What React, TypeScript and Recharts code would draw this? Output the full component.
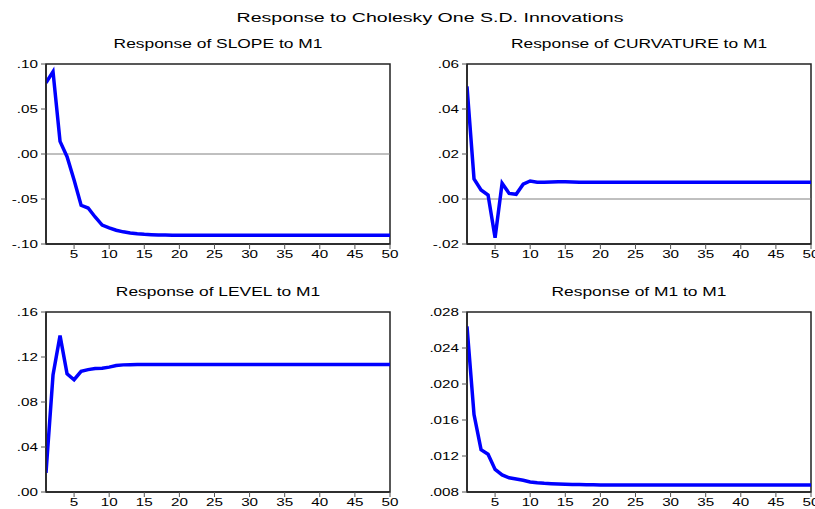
import React from "react";
import { LineChart, Line, XAxis, YAxis, ReferenceLine, ReferenceArea } from "recharts";

const periods = [
  1, 2, 3, 4, 5, 6, 7, 8, 9, 10, 11, 12, 13, 14, 15, 16, 17, 18, 19, 20,
  21, 22, 23, 24, 25, 26, 27, 28, 29, 30, 31, 32, 33, 34, 35, 36, 37, 38, 39, 40,
  41, 42, 43, 44, 45, 46, 47, 48, 49, 50,
];

const slopeValues = [
  0.079, 0.0915, 0.014, -0.003, -0.029, -0.057, -0.06, -0.07, -0.079, -0.082,
  -0.0847, -0.0865, -0.0877, -0.0886, -0.0892, -0.0896, -0.0899, -0.0901, -0.0902, -0.0903,
  -0.0903, -0.0903, -0.0903, -0.0903, -0.0903, -0.0903, -0.0903, -0.0903, -0.0903, -0.0903,
  -0.0903, -0.0903, -0.0903, -0.0903, -0.0903, -0.0903, -0.0903, -0.0903, -0.0903, -0.0903,
  -0.0903, -0.0903, -0.0903, -0.0903, -0.0903, -0.0903, -0.0903, -0.0903, -0.0903, -0.0903,
];

const curvatureValues = [
  0.05, 0.0089, 0.004, 0.0018, -0.0172, 0.007, 0.0025, 0.0021, 0.0066, 0.008,
  0.0075, 0.0075, 0.0076, 0.0077, 0.0077, 0.0076, 0.0075, 0.0075, 0.0075, 0.0075,
  0.0075, 0.0075, 0.0074, 0.0074, 0.0074, 0.0074, 0.0074, 0.0074, 0.0074, 0.0074,
  0.0074, 0.0074, 0.0074, 0.0074, 0.0074, 0.0074, 0.0074, 0.0074, 0.0074, 0.0074,
  0.0074, 0.0074, 0.0074, 0.0074, 0.0074, 0.0074, 0.0074, 0.0074, 0.0074, 0.0074,
];

const levelValues = [
  0.017, 0.104, 0.139, 0.105, 0.0998, 0.1072, 0.1088, 0.1098, 0.11, 0.111,
  0.1124, 0.113, 0.1132, 0.1133, 0.1134, 0.1134, 0.1134, 0.1134, 0.1134, 0.1134,
  0.1134, 0.1134, 0.1134, 0.1134, 0.1134, 0.1134, 0.1134, 0.1134, 0.1134, 0.1134,
  0.1134, 0.1134, 0.1134, 0.1134, 0.1134, 0.1134, 0.1134, 0.1134, 0.1134, 0.1134,
  0.1134, 0.1134, 0.1134, 0.1134, 0.1134, 0.1134, 0.1134, 0.1134, 0.1134, 0.1134,
];

const m1Values = [
  0.0264, 0.0166, 0.0127, 0.0122, 0.0105, 0.0099, 0.00958, 0.00945, 0.0093, 0.00912,
  0.00902, 0.00896, 0.00892, 0.00889, 0.00886, 0.00884, 0.00882, 0.00881, 0.0088, 0.00879,
  0.00879, 0.00879, 0.00879, 0.00879, 0.00879, 0.00879, 0.00879, 0.00879, 0.00879, 0.00879,
  0.00879, 0.00879, 0.00879, 0.00879, 0.00879, 0.00879, 0.00879, 0.00879, 0.00879, 0.00879,
  0.00879, 0.00879, 0.00879, 0.00879, 0.00879, 0.00879, 0.00879, 0.00879, 0.00879, 0.00879,
];

const xTicks = [5, 10, 15, 20, 25, 30, 35, 40, 45, 50];
const slopeTicks = [-0.1, -0.05, 0, 0.05, 0.1];
const curvatureTicks = [-0.02, 0, 0.02, 0.04, 0.06];
const levelTicks = [0, 0.04, 0.08, 0.12, 0.16];
const m1Ticks = [0.008, 0.012, 0.016, 0.02, 0.024, 0.028];

const mainTitle = "Response to Cholesky One S.D. Innovations";
const panelTitles = [
  "Response of SLOPE to M1",
  "Response of CURVATURE to M1",
  "Response of LEVEL to M1",
  "Response of M1 to M1",
];

const FONT = "'Liberation Sans', Arial, sans-serif";
const SX = 1.45;

const fmt = (v: number, d: number) => v.toFixed(d).replace(/^(-?)0\./, "$1.");

const YTick = (props: any) => {
  const { x, y, payload, decimals } = props;
  return (
    <text
      transform={`translate(${x},${y}) scale(${SX},1)`}
      textAnchor="end"
      dominantBaseline="central"
      fontSize={10.5}
      fontFamily={FONT}
      fill="#000"
    >
      {fmt(payload.value, decimals)}
    </text>
  );
};

const XTick = (props: any) => {
  const { x, y, payload } = props;
  return (
    <text
      transform={`translate(${x},${y + 8}) scale(${SX},1)`}
      textAnchor="middle"
      fontSize={10.5}
      fontFamily={FONT}
      fill="#000"
    >
      {payload.value}
    </text>
  );
};

type PanelProps = {
  values: number[];
  ticks: number[];
  decimals: number;
  plotLeft: number;
  plotTop: number;
  plotRight: number;
  plotBottom: number;
  zeroLine: boolean;
  rightMargin: number;
};

const Panel = ({ values, ticks, decimals, plotLeft, plotTop, plotRight, plotBottom, zeroLine, rightMargin }: PanelProps) => {
  const data = periods.map((p, i) => ({ period: p, value: values[i] }));
  const chartLeft = plotLeft - 46;
  const chartTop = plotTop - 10;
  const width = plotRight - chartLeft + rightMargin;
  const height = plotBottom - chartTop + 25;
  const yMin = ticks[0];
  const yMax = ticks[ticks.length - 1];
  return (
    <div style={{ position: "absolute", left: chartLeft, top: chartTop }}>
      <LineChart width={width} height={height} data={data} margin={{ top: 10, right: rightMargin, left: 6, bottom: 5 }}>
        <XAxis
          dataKey="period"
          type="number"
          domain={[1, 50]}
          ticks={xTicks}
          interval={0}
          height={20}
          tickSize={5}
          tickMargin={1}
          axisLine={{ stroke: "#222", strokeWidth: 1.5 }}
          tickLine={{ stroke: "#555" }}
          tick={(p: any) => <XTick {...p} />}
          allowDataOverflow
        />
        <YAxis
          type="number"
          domain={[yMin, yMax]}
          ticks={ticks}
          interval={0}
          width={40}
          tickSize={5}
          tickMargin={3}
          axisLine={{ stroke: "#222", strokeWidth: 1.5 }}
          tickLine={{ stroke: "#555" }}
          tick={(p: any) => <YTick {...p} decimals={decimals} />}
          allowDataOverflow
        />
        <ReferenceArea x1={1} x2={50} y1={yMin} y2={yMax} fill="#fff" fillOpacity={0} stroke="#222" strokeWidth={1.5} ifOverflow="extendDomain" />
        {zeroLine && <ReferenceLine y={0} stroke="#808080" strokeWidth={1} />}
        <Line type="linear" dataKey="value" stroke="#0000FF" strokeWidth={3.5} dot={false} isAnimationActive={false} />
      </LineChart>
    </div>
  );
};

export default function App() {
  return (
    <div style={{ position: "absolute", left: 0, top: 0, width: 815, height: 509, background: "#fff", overflow: "hidden" }}>
      <svg width={815} height={509} style={{ position: "absolute", left: 0, top: 0 }}>
        <text transform={`translate(430,22) scale(${SX},1)`} textAnchor="middle" fontSize={13.5} fontFamily={FONT} fill="#000">
          {mainTitle}
        </text>
        <text transform={`translate(218,48) scale(${SX},1)`} textAnchor="middle" fontSize={12} fontFamily={FONT} fill="#000">
          {panelTitles[0]}
        </text>
        <text transform={`translate(639,48) scale(${SX},1)`} textAnchor="middle" fontSize={12} fontFamily={FONT} fill="#000">
          {panelTitles[1]}
        </text>
        <text transform={`translate(218,296) scale(${SX},1)`} textAnchor="middle" fontSize={12} fontFamily={FONT} fill="#000">
          {panelTitles[2]}
        </text>
        <text transform={`translate(639,296) scale(${SX},1)`} textAnchor="middle" fontSize={12} fontFamily={FONT} fill="#000">
          {panelTitles[3]}
        </text>
      </svg>
      <Panel values={slopeValues} ticks={slopeTicks} decimals={2} plotLeft={46} plotTop={64} plotRight={390} plotBottom={244} zeroLine rightMargin={10} />
      <Panel values={curvatureValues} ticks={curvatureTicks} decimals={2} plotLeft={467} plotTop={64} plotRight={811} plotBottom={244} zeroLine rightMargin={4} />
      <Panel values={levelValues} ticks={levelTicks} decimals={2} plotLeft={46} plotTop={312} plotRight={390} plotBottom={492} zeroLine={false} rightMargin={10} />
      <Panel values={m1Values} ticks={m1Ticks} decimals={3} plotLeft={467} plotTop={312} plotRight={811} plotBottom={492} zeroLine={false} rightMargin={4} />
    </div>
  );
}
